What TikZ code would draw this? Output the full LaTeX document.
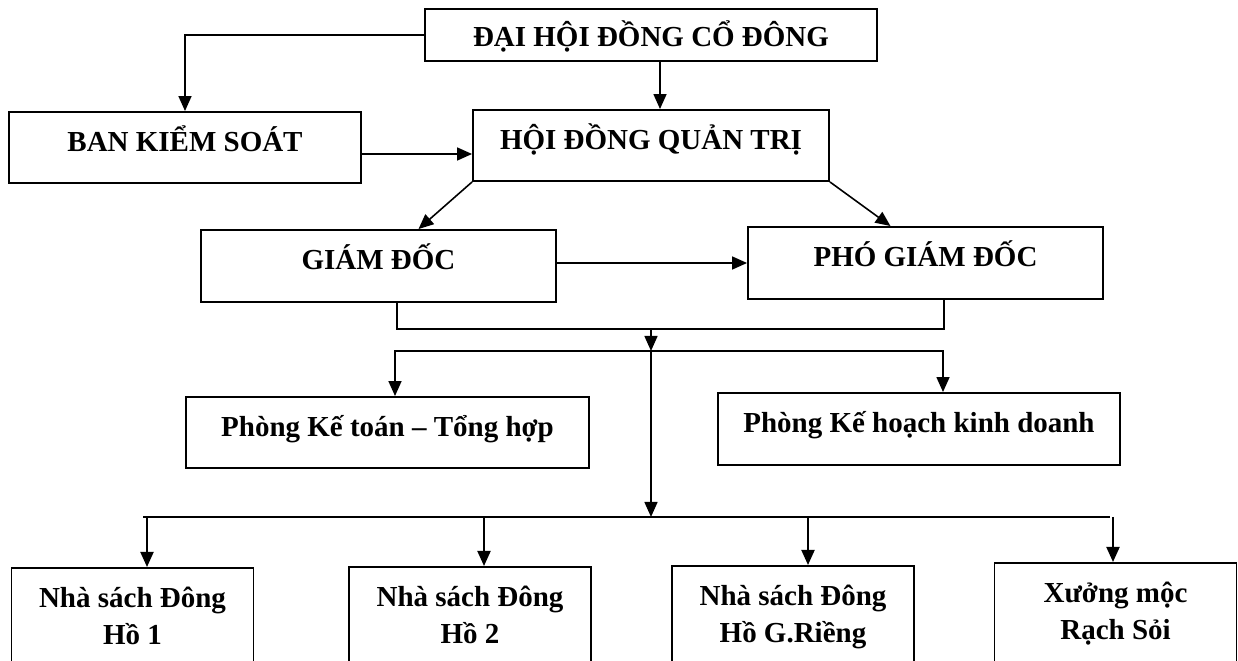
\documentclass[tikz,border=0pt]{standalone}
\usepackage{fontspec}
\setmainfont{Liberation Serif}
\usepackage{tikz}
\usetikzlibrary{arrows.meta,positioning,calc}

\begin{document}
\begin{tikzpicture}[
    x=0.02cm, y=-0.02cm,
    >={Triangle[length=3mm,width=2.6mm]},
    line width=0.9pt,
    block/.style={draw, rectangle, line width=1.1pt, inner sep=0pt, align=center, font=\bfseries\fontsize{16.5}{20}\selectfont, text height=13pt, text depth=9pt},
    unit/.style={draw, rectangle, line width=1.1pt, anchor=north, inner xsep=0pt, inner ysep=11pt, minimum width=4.84cm, align=center, font=\bfseries\fontsize{16.5}{21}\selectfont, text depth=14pt}
]

    \useasboundingbox (0,0) rectangle (1238,661);
    \clip (0,0) rectangle (1238,661);

    \node[block, minimum width=9.04cm, minimum height=1.04cm, text depth=0pt] (DH) at (651,35) {ĐẠI HỘI ĐỒNG CỔ ĐÔNG};
    \node[block, minimum width=7.04cm, minimum height=1.42cm] (BKS) at (185,147.5) {BAN KIỂM SOÁT};
    \node[block, minimum width=7.12cm, minimum height=1.42cm] (HDQT) at (651,145.5) {HỘI ĐỒNG QUẢN TRỊ};
    \node[block, minimum width=7.1cm, minimum height=1.44cm] (GD) at (378.5,266) {GIÁM ĐỐC};
    \node[block, minimum width=7.1cm, minimum height=1.44cm] (PGD) at (925.5,263) {PHÓ GIÁM ĐỐC};
    \node[block, minimum width=8.06cm, minimum height=1.42cm] (KT) at (387.5,432.5) {Phòng Kế toán – Tổng hợp};
    \node[block, minimum width=8.04cm, minimum height=1.44cm] (KH) at (919,429) {Phòng Kế hoạch kinh doanh};

    \node[unit] (NS1) at (132.5,567) {Nhà sách Đông\\Hồ 1};
    \node[unit] (NS2) at (470,566) {Nhà sách Đông\\Hồ 2};
    \node[unit] (NS3) at (793,565) {Nhà sách Đông\\Hồ G.Riềng};
    \node[unit] (XM) at (1115.5,562) {Xưởng mộc\\Rạch Sỏi};

    \coordinate (BKS_out) at ($(BKS.east) + (0, 6.5)$);
    \coordinate (GD_out)  at ($(GD.south) + (18.5, 0)$);
    \coordinate (PGD_out) at ($(PGD.south) + (18.5, 0)$);
    \coordinate (KT_in)   at ($(KT.north) + (7.5, 0)$);
    \coordinate (KH_in)   at ($(KH.north) + (24, 0)$);

    \draw[->] (DH.west) -| (BKS.north);
    \draw[->] ($(DH.south) + (9, 0)$) -- ($(HDQT.north) + (9, 0)$);
    \draw[->] (BKS_out) -- (BKS_out -| HDQT.west);

    \draw[->] (HDQT.south west) -- ($(GD.north) + (40, 0)$);
    \draw[->] (HDQT.south east) -- ($(PGD.north) + (-35, 0)$);
    \draw[->] (GD.east |- PGD.west) -- (PGD.west);

    \draw (GD_out) -- ++(0, 26) coordinate (join) -- (join -| PGD_out) -- (PGD_out);
    \draw[->] (join -| HDQT.south) coordinate (split) -- ++(0, 22) coordinate (fork);
    \draw[->] (fork) -- (fork -| KT_in) -- (KT_in);
    \draw[->] (fork) -- (fork -| KH_in) -- (KH_in);
    \draw[->] (fork) -- ++(0, 166) coordinate (bus);

    \foreach \u/\dx in {NS1/14.5, NS2/14, NS3/15, XM/-2.5} {
        \coordinate (\u_in) at ($(\u.north) + (\dx, 0)$);
        \draw[->, line width=1.1pt] (bus -| \u_in) -- (\u_in);
    }
    \draw[line width=1.1pt] ($(bus -| NS1_in) + (-4, 0)$) -- ($(bus -| XM_in) + (-3, 0)$);

\end{tikzpicture}
\end{document}
